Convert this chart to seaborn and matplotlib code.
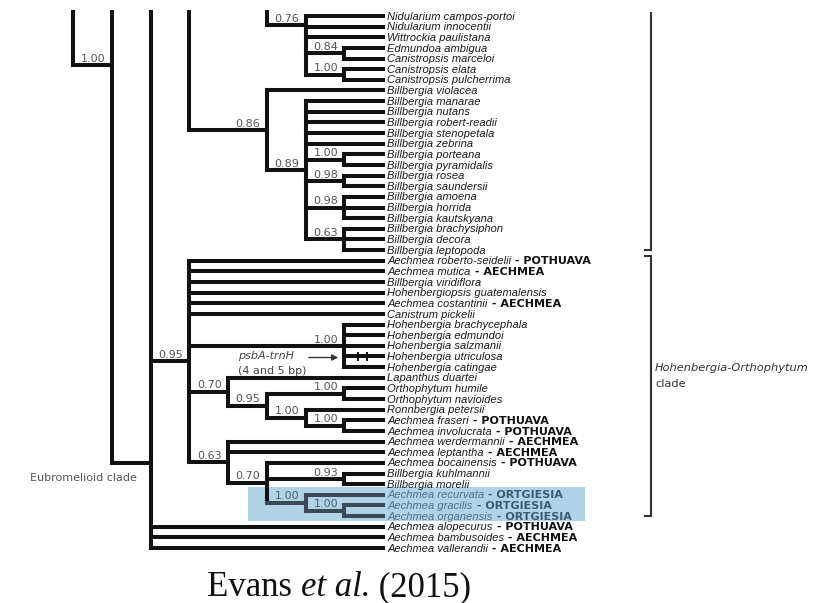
import matplotlib
matplotlib.use("Agg")
import matplotlib.pyplot as plt
import seaborn as sns
import pandas as pd
from matplotlib.patches import Rectangle

# ---------------- data ----------------
species = [
    "Nidularium campos-portoi", "Nidularium innocentii", "Wittrockia paulistana",
    "Edmundoa ambigua", "Canistropsis marceloi", "Canistropsis elata",
    "Canistropsis pulcherrima", "Billbergia violacea", "Billbergia manarae",
    "Billbergia nutans", "Billbergia robert-readii", "Billbergia stenopetala",
    "Billbergia zebrina", "Billbergia porteana", "Billbergia pyramidalis",
    "Billbergia rosea", "Billbergia saundersii", "Billbergia amoena",
    "Billbergia horrida", "Billbergia kautskyana", "Billbergia brachysiphon",
    "Billbergia decora", "Billbergia leptopoda", "Aechmea roberto-seidelii",
    "Aechmea mutica", "Billbergia viridiflora", "Hohenbergiopsis guatemalensis",
    "Aechmea costantinii", "Canistrum pickelii", "Hohenbergia brachycephala",
    "Hohenbergia edmundoi", "Hohenbergia salzmanii", "Hohenbergia utriculosa",
    "Hohenbergia catingae", "Lapanthus duartei", "Orthophytum humile",
    "Orthophytum navioides", "Ronnbergia petersii", "Aechmea fraseri",
    "Aechmea involucrata", "Aechmea werdermannii", "Aechmea leptantha",
    "Aechmea bocainensis", "Billbergia kuhlmannii", "Billbergia morelii",
    "Aechmea recurvata", "Aechmea gracilis", "Aechmea organensis",
    "Aechmea alopecurus", "Aechmea bambusoides", "Aechmea vallerandii",
]
genera = [""] * 23 + [
    "POTHUAVA", "AECHMEA", "", "", "AECHMEA", "", "", "", "", "", "", "", "", "",
    "", "POTHUAVA", "POTHUAVA", "AECHMEA", "AECHMEA", "POTHUAVA", "", "",
    "ORTGIESIA", "ORTGIESIA", "ORTGIESIA", "POTHUAVA", "AECHMEA", "AECHMEA",
]
ortgiesia_tips = [45, 46, 47]
marked_tip = 32                     # psbA-trnH indels
bracket_groups = [("TOP", 22, ""), (23, 47, "Hohenbergia-Orthophytum\nclade")]
caption = [("Evans ", "normal"), ("et al.", "italic"), (" (2015)", "normal")]

TOP = "TOP"


def N(level, support, children, attach=None, hl=False):
    return (level, support, children, attach, hl)


top_clade = N(5, "", [TOP, N(6, "0.76", [0, 1, 2, N(7, "0.84", [3, 4]),
                                          N(7, "1.00", [5, 6])], attach=0.85)], attach=TOP)
billbergia = N(5, "0.86", [7, N(6, "0.89", [8, 9, 10, 11, 12, N(7, "1.00", [13, 14]),
                                             N(7, "0.98", [15, 16]), N(7, "0.98", [17, 18, 19]),
                                             N(7, "0.63", [20, 21, 22])])])
ortgiesia = N(6, "1.00", [45, N(7, "1.00", [46, 47], hl=True)], hl=True)
hohen_ortho = N(3, "0.95", [23, 24, 25, 26, 27, 28,
                            N(7, "1.00", [29, 30, 31, 32, 33]),
                            N(4, "0.70", [34, N(5, "0.95", [N(7, "1.00", [35, 36]),
                                                            N(6, "1.00", [37, N(7, "1.00", [38, 39])])])]),
                            N(4, "0.63", [40, 41, N(5, "0.70", [42, N(7, "0.93", [43, 44]), ortgiesia])])])
backbone = N(0, "", [TOP, N(1, "1.00", [TOP, N(2, "", [TOP, N(3, "", [TOP, top_clade, billbergia], attach=TOP),
                                                      hohen_ortho, 48, 49, 50], attach=42.0)], attach=4.6)],
             attach=TOP)

# ---------------- layout ----------------
W, H = 815, 603
X0, DX = 73.0, 38.75       # pixel of depth level 0, pixels per level
Y0, DY = 16.0, 10.64       # pixel of first tip row, pixels per row
TIP_LEVEL = 8
TOP_ROW = -0.4


def px(x, y):
    return (x - X0) / DX, (y - Y0) / DY


segs, supports = [], []


def layout(node, hl_parent=False):
    level, sup, children, attach, hl = node
    hl = hl or hl_parent
    ys = []
    for ch in children:
        if ch == TOP:
            ys.append(TOP_ROW)
            continue
        if isinstance(ch, int):
            segs.append((level, ch, TIP_LEVEL, ch, hl))
            ys.append(ch)
        else:
            y = layout(ch, hl)
            if ch[3] != TOP:
                segs.append((level, y, ch[0], y, hl or ch[4]))
            ys.append(y)
    segs.append((level, min(ys), level, max(ys), hl))
    if attach is None:
        y = (ys[0] + ys[-1]) / 2
    elif attach == TOP:
        y = TOP_ROW
    else:
        y = attach
    if sup:
        supports.append((level, y, sup, hl))
    return y


layout(backbone)

rows = []
for i, (x0, y0, x1, y1, h) in enumerate(segs):
    g = "ortgiesia" if h else "main"
    rows.append(dict(seg=i, x=x0, y=y0, grp=g))
    rows.append(dict(seg=i, x=x1, y=y1, grp=g))
df = pd.DataFrame(rows)

# ---------------- drawing ----------------
sns.set_theme(style="white")
plt.rcParams["font.family"] = ["DejaVu Sans"]
plt.rcParams["lines.solid_capstyle"] = "projecting"

fig = plt.figure(figsize=(W / 100, H / 100), dpi=100)
ax = fig.add_axes([0, 0, 1, 1])

# highlight box
hx0, hy0 = px(248, 0)
hx1, _ = px(585, 0)
ax.add_patch(Rectangle((hx0, ortgiesia_tips[0] - 0.72), hx1 - hx0,
                       ortgiesia_tips[-1] - ortgiesia_tips[0] + 1.2,
                       facecolor="#b2d2e6", edgecolor="none", zorder=0))

sns.lineplot(data=df, x="x", y="y", units="seg", estimator=None, sort=False,
             hue="grp", palette={"main": "#111111", "ortgiesia": "#3a4a58"},
             linewidth=2.9, legend=False, ax=ax, zorder=2)

ax.set_xlim(-X0 / DX, (W - X0) / DX)
ax.set_ylim((H - Y0) / DY, -Y0 / DY)
ax.axis("off")

# support values
for level, y, s, h in supports:
    ax.annotate(s, xy=(level, y), xytext=(-4.5, 2.4), textcoords="offset points",
                ha="right", va="baseline", fontsize=8,
                color="#4d6070" if h else "#555555", family="DejaVu Sans")

# tip labels
tip_texts = []
for i, name in enumerate(species):
    hl = i in ortgiesia_tips
    t = ax.annotate(name, xy=(TIP_LEVEL, i), xytext=(3.0, -2.6), textcoords="offset points",
                    ha="left", va="baseline", fontsize=8, style="italic",
                    family="Liberation Sans", color="#50708c" if hl else "#1a1a1a")
    tip_texts.append(t)

# indel marks on the utriculosa branch
for xp in (358, 367):
    xm, _ = px(xp, 0)
    ax.vlines(xm, marked_tip - 0.45, marked_tip + 0.45, color="#111111", lw=1.4, zorder=3)

# psbA-trnH annotation
ax.text(*px(238, 356), "psbA-trnH", style="italic", fontsize=8, color="#444444",
        ha="left", va="center")
ax.text(*px(238, 371), "(4 and 5 bp)", fontsize=8, color="#444444", ha="left", va="center")
ax.annotate("", xy=px(341, 357.5), xytext=px(306, 357.5),
            arrowprops=dict(arrowstyle="-|>", color="#333333", lw=1.0, mutation_scale=9))

# clade labels
ax.text(*px(30, 478), "Eubromelioid clade", fontsize=8, color="#555555", ha="left", va="center")

bx, _ = px(651, 0)
hook = 6 / DX
for start, end, label in bracket_groups:
    y0 = TOP_ROW if start == "TOP" else start - 0.4
    y1 = end
    ax.plot([bx, bx], [y0, y1], color="#333333", lw=1.5, solid_capstyle="butt")
    ax.plot([bx - hook, bx], [y1, y1], color="#333333", lw=1.5)
    if start != "TOP":
        ax.plot([bx - hook, bx], [y0, y0], color="#333333", lw=1.5)
    if label:
        l1, l2 = label.split("\n")
        ax.text(*px(655, 368), l1, style="italic", fontsize=8.2, color="#333333",
                ha="left", va="center")
        ax.text(*px(655, 384), l2, fontsize=8.2, color="#333333", ha="left", va="center")

# genus labels chained after species names
fig.canvas.draw()
r = fig.canvas.get_renderer()
inv = ax.transData.inverted()
for i, g in enumerate(genera):
    if not g:
        continue
    bb = tip_texts[i].get_window_extent(r)
    xr = inv.transform((bb.x1, bb.y0))[0]
    hl = i in ortgiesia_tips
    ax.annotate(" - " + g, xy=(xr, i), xytext=(0, -2.6), textcoords="offset points",
                ha="left", va="baseline", fontsize=8, fontweight="bold",
                family="DejaVu Sans", color="#3d5a73" if hl else "#111111")

# caption
cx, cy = px(207, 596)
for txt, st in caption:
    t = ax.text(cx, cy, txt, family="Liberation Serif", style=st, fontsize=25,
                color="#111111", ha="left", va="baseline")
    fig.canvas.draw()
    bb = t.get_window_extent(r)
    cx = inv.transform((bb.x1, bb.y0))[0]

fig.savefig("out.png", dpi=100, facecolor="white")
